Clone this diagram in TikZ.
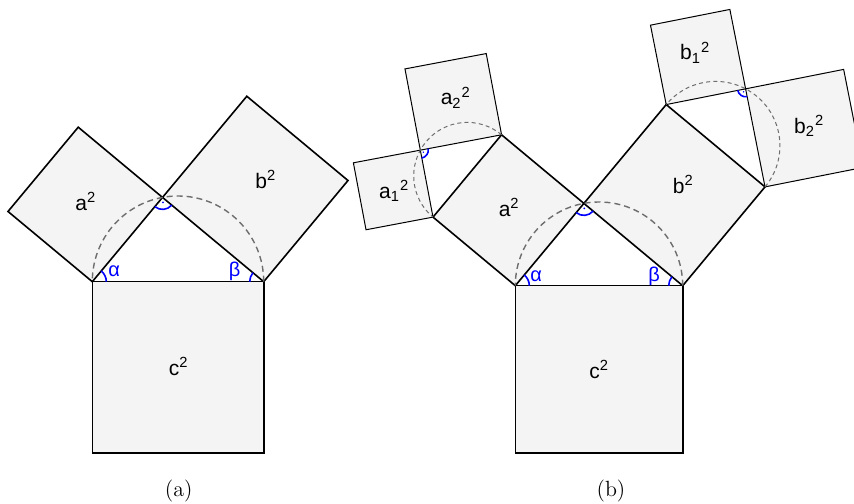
\documentclass[tikz,border=0pt]{standalone}
\usepackage{fontspec}
\setsansfont{Liberation Sans}
\usetikzlibrary{calc}
\definecolor{sqfill}{HTML}{F4F4F4}
\definecolor{dashgray}{HTML}{6E6E6E}
\tikzset{
  mainsq/.style={fill=sqfill, draw=black, line width=0.8pt, line join=miter},
  subsq/.style={fill=sqfill, draw=black, line width=0.5pt, line join=miter},
  thales/.style={draw=dashgray, dash pattern=on 3pt off 2pt, line width=0.7pt},
  subthales/.style={draw=dashgray, dash pattern=on 2pt off 1.6pt, line width=0.5pt},
  angarc/.style={draw=blue, line width=0.8pt},
  lbl/.style={font=\sffamily\fontsize{10.5}{12}\selectfont, anchor=base, inner sep=0pt},
  grk/.style={text=blue, font=\sffamily\fontsize{10}{12}\selectfont, anchor=base, inner sep=0pt},
  captxt/.style={font=\fontsize{11}{13}\selectfont, anchor=base, inner sep=0pt}
}
\begin{document}
\begin{tikzpicture}[x=0.5pt, y=0.5pt]
\useasboundingbox (0,0) rectangle (854,503);
\clip (0,0) rectangle (854,503);

% ---------- figure (a) ----------
\coordinate (aL) at (92.3,221.3);
\coordinate (aR) at (263.7,221.3);
\coordinate (aA) at ($(aL)!{cos(50.2)}!50.2:(aR)$);
\coordinate (aP1) at ($(aL)!1!90:(aA)$);
\coordinate (aP2) at ($(aA)!1!-90:(aL)$);
\coordinate (aB1) at ($(aA)!1!90:(aR)$);
\coordinate (aB2) at ($(aR)!1!-90:(aA)$);
\coordinate (aC1) at ($(aL)!1!-90:(aR)$);
\coordinate (aC2) at ($(aR)!1!90:(aL)$);

\draw[mainsq] (aL) -- (aR) -- (aC2) -- (aC1) -- cycle;
\draw[mainsq] (aL) -- (aA) -- (aP2) -- (aP1) -- cycle;
\draw[mainsq] (aA) -- (aR) -- (aB2) -- (aB1) -- cycle;

\draw[thales] (aR) arc[start angle=0, end angle=180, radius=85.7];

\draw[angarc] ($(aA)+(230.2:12)$) arc[start angle=230.2, end angle=320.2, radius=12];
\fill[blue] ($(aA)+(275.2:5)$) circle[radius=1];
\draw[angarc] ($(aL)+(14,0)$) arc[start angle=0, end angle=50.2, radius=14];
\draw[angarc] ($(aR)+(140.2:14)$) arc[start angle=140.2, end angle=180, radius=14];

\node[grk] (aalpha) at (114.2,226.7) {α};
\node[grk] (abeta) at (234.5,226.7) {β};
\node[lbl] (aa2) at (85.8,292.3) {a\textsuperscript{2}};
\node[lbl] (ab2) at (265.8,314.7) {b\textsuperscript{2}};
\node[lbl] (ac2) at (178.7,127.3) {c\textsuperscript{2}};
\node[captxt] (capa) at (178.7,6.3) {(a)};

% ---------- figure (b) ----------
\coordinate (bL) at (515.3,217.3);
\coordinate (bR) at (682.7,217.3);
\coordinate (bA) at ($(bL)!{cos(50.2)}!50.2:(bR)$);
\coordinate (bP1) at ($(bL)!1!90:(bA)$);
\coordinate (bP2) at ($(bA)!1!-90:(bL)$);
\coordinate (bB1) at ($(bA)!1!90:(bR)$);
\coordinate (bB2) at ($(bR)!1!-90:(bA)$);
\coordinate (bC1) at ($(bL)!1!-90:(bR)$);
\coordinate (bC2) at ($(bR)!1!90:(bL)$);
% sub triangle on a^2
\coordinate (bQa) at ($(bP1)!{cos(50.5)}!50.5:(bP2)$);
\coordinate (qa1) at ($(bP1)!1!90:(bQa)$);
\coordinate (qa2) at ($(bQa)!1!-90:(bP1)$);
\coordinate (qa3) at ($(bQa)!1!90:(bP2)$);
\coordinate (qa4) at ($(bP2)!1!-90:(bQa)$);
% sub triangle on b^2
\coordinate (bQb) at ($(bB1)!{cos(51)}!51:(bB2)$);
\coordinate (qb1) at ($(bB1)!1!90:(bQb)$);
\coordinate (qb2) at ($(bQb)!1!-90:(bB1)$);
\coordinate (qb3) at ($(bQb)!1!90:(bB2)$);
\coordinate (qb4) at ($(bB2)!1!-90:(bQb)$);

\draw[subsq] (bP1) -- (bQa) -- (qa2) -- (qa1) -- cycle;
\draw[subsq] (bQa) -- (bP2) -- (qa4) -- (qa3) -- cycle;
\draw[subsq] (bB1) -- (bQb) -- (qb2) -- (qb1) -- cycle;
\draw[subsq] (bQb) -- (bB2) -- (qb4) -- (qb3) -- cycle;

\draw[mainsq] (bL) -- (bR) -- (bC2) -- (bC1) -- cycle;
\draw[mainsq] (bL) -- (bA) -- (bP2) -- (bP1) -- cycle;
\draw[mainsq] (bA) -- (bR) -- (bB2) -- (bB1) -- cycle;

\draw[thales] (bR) arc[start angle=0, end angle=180, radius=83.7];
\draw[subthales] (bP2) arc[start angle=50.2, end angle=230.2, radius=53.58];
\draw[subthales] (bB2) arc[start angle=-39.8, end angle=140.2, radius=64.3];

\draw[angarc] ($(bA)+(230.2:12)$) arc[start angle=230.2, end angle=320.2, radius=12];
\fill[blue] ($(bA)+(275.2:5)$) circle[radius=1];
\draw[angarc] ($(bQa)+(280.7:8)$) arc[start angle=280.7, end angle=370.7, radius=8];
\fill[blue] ($(bQa)+(325.7:3.6)$) circle[radius=0.8];
\draw[angarc] ($(bQb)+(191.2:8)$) arc[start angle=191.2, end angle=281.2, radius=8];
\fill[blue] ($(bQb)+(236.2:3.6)$) circle[radius=0.8];
\draw[angarc] ($(bL)+(14,0)$) arc[start angle=0, end angle=50.2, radius=14];
\draw[angarc] ($(bR)+(140.2:14)$) arc[start angle=140.2, end angle=180, radius=14];

\node[grk] (balpha) at (536.2,221.3) {α};
\node[grk] (bbeta) at (654.2,221.3) {β};
\node[lbl] (ba2) at (509.2,286.3) {a\textsuperscript{2}};
\node[lbl] (bb2) at (683.3,309.7) {b\textsuperscript{2}};
\node[lbl] (bc2) at (599.2,124.7) {c\textsuperscript{2}};
\node[lbl] (ba12) at (394.2,304.7) {a\textsubscript{1}\textsuperscript{2}};
\node[lbl] (ba22) at (455.8,398) {a\textsubscript{2}\textsuperscript{2}};
\node[lbl] (bb12) at (695.2,443) {b\textsubscript{1}\textsuperscript{2}};
\node[lbl] (bb22) at (809.2,369.7) {b\textsubscript{2}\textsuperscript{2}};
\node[captxt] (capb) at (611,6.3) {(b)};
\end{tikzpicture}
\end{document}
